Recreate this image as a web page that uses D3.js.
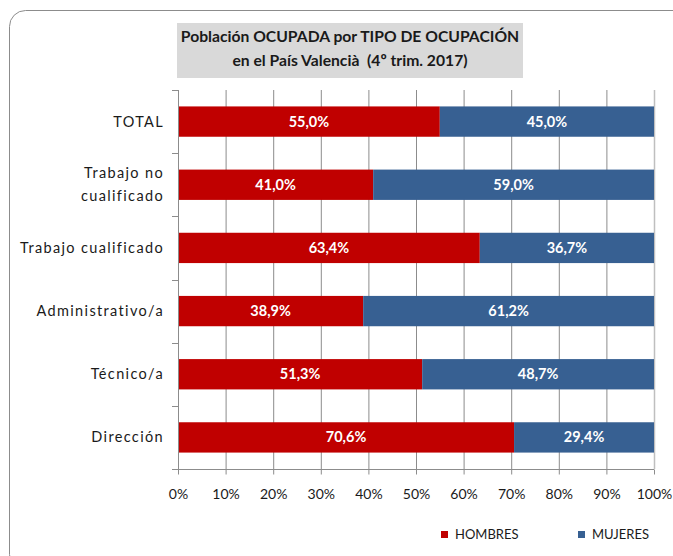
<!DOCTYPE html>
<html><head><meta charset="utf-8">
<script src="https://cdn.jsdelivr.net/npm/d3@7"></script>
<style>
body{margin:0;background:#fff;}
svg{display:block;font-family:Lato,"Open Sans",sans-serif;}
</style></head>
<body>
<svg id="c" width="673" height="556"></svg>
<script>
const categories = ["TOTAL", "Trabajo no cualificado", "Trabajo cualificado", "Administrativo/a", "Técnico/a", "Dirección"];
const categoryLines = [["TOTAL"], ["Trabajo no", "cualificado"], ["Trabajo cualificado"], ["Administrativo/a"], ["Técnico/a"], ["Dirección"]];
const hombres = [55.0, 41.0, 63.4, 38.9, 51.3, 70.6];
const mujeres = [45.0, 59.0, 36.7, 61.2, 48.7, 29.4];
const seriesNames = ["HOMBRES", "MUJERES"];
const seriesColors = ["#C00000", "#376092"];
const xTicks = [0,10,20,30,40,50,60,70,80,90,100];
const titleLines = ["Población OCUPADA por TIPO DE OCUPACIÓN", "en el País Valencià  (4º trim. 2017)"];

const svg = d3.select("#c");
const m = {left:178, right:654, top:90, bottom:469};

svg.append("rect").attr("x",9.5).attr("y",10.5).attr("width",680).attr("height",560)
  .attr("rx",16).attr("fill","none").attr("stroke","#8c8c8c").attr("stroke-width",1);

svg.append("rect").attr("x",177).attr("y",23).attr("width",346).attr("height",55).attr("fill","#d9d9d9");
svg.append("g").selectAll("text").data(titleLines).join("text")
  .attr("x",350).attr("y",(d,i)=>42+i*24).attr("text-anchor","middle")
  .style("white-space","pre")
  .attr("font-size",15.7).attr("font-weight","bold").attr("fill","#1a1a1a").text(d=>d);

const x = d3.scaleLinear().domain([0,100]).range([m.left,m.right]);
const y = d3.scaleBand().domain(categories).range([m.top,m.bottom]).paddingInner(0.52).paddingOuter(0.26);

svg.append("g").selectAll("line").data(xTicks.slice(1)).join("line")
  .attr("x1",d=>x(d)+0.5).attr("x2",d=>x(d)+0.5).attr("y1",m.top).attr("y2",m.bottom)
  .attr("stroke",d=>d===100?"#bfbfbf":"#8c8c8c").attr("stroke-width",d=>d===100?1.5:1);

const stacked = categories.map((c,i)=>{
  return [{c, s:0, x0:0, x1:hombres[i], v:hombres[i]}, {c, s:1, x0:hombres[i], x1:Math.min(100,hombres[i]+mujeres[i]), v:mujeres[i]}];
}).flat();
svg.append("g").selectAll("rect").data(stacked).join("rect")
  .attr("x",d=>x(d.x0)).attr("width",d=>x(d.x1)-x(d.x0))
  .attr("y",d=>y(d.c)).attr("height",y.bandwidth())
  .attr("fill",d=>seriesColors[d.s]);
svg.append("g").selectAll("text").data(stacked).join("text")
  .attr("x",d=>(x(d.x0)+x(d.x1))/2).attr("y",d=>y(d.c)+y.bandwidth()/2+5)
  .attr("text-anchor","middle").attr("font-size",14.5).attr("font-weight","bold").attr("fill","#fff")
  .text(d=>d.v.toFixed(1).replace(".",",")+"%");

const xa = svg.append("g").attr("transform",`translate(0,${m.bottom+0.5})`)
  .call(d3.axisBottom(x).tickValues(xTicks).tickSize(5).tickFormat(d=>d+"%"));
xa.select(".domain").remove();
svg.append("line").attr("x1",m.left-6).attr("x2",m.right).attr("y1",m.bottom+0.5).attr("y2",m.bottom+0.5).attr("stroke","#8c8c8c");
xa.selectAll(".tick line").attr("stroke","#8c8c8c");
xa.selectAll(".tick text").attr("font-size",14).attr("fill","#1a1a1a").attr("dy","1.55em").attr("font-family","Lato");

svg.append("line").attr("x1",m.left+0.5).attr("x2",m.left+0.5).attr("y1",m.top).attr("y2",m.bottom).attr("stroke","#8c8c8c");
const bounds = d3.range(categories.length+1).map(i=>m.top+i*(m.bottom-m.top)/categories.length);
svg.append("g").selectAll("line").data(bounds).join("line")
  .attr("x1",m.left-6).attr("x2",m.left).attr("y1",d=>Math.round(d)+0.5).attr("y2",d=>Math.round(d)+0.5).attr("stroke","#8c8c8c");
const lab = svg.append("g").selectAll("text").data(categories).join("text")
  .attr("text-anchor","end").attr("font-size",14.5).attr("fill","#1a1a1a").attr("letter-spacing",1.35);
lab.each(function(c,i){
  const lines = categoryLines[i];
  const cy = y(c)+y.bandwidth()/2;
  d3.select(this).selectAll("tspan").data(lines).join("tspan")
    .attr("x",164).attr("y",(d,j)=>cy+5+(j-(lines.length-1)/2)*23).text(d=>d);
});

const lg = svg.append("g").selectAll("g").data(seriesNames).join("g")
  .attr("transform",(d,i)=>`translate(${[441,578][i]},531)`);
lg.append("rect").attr("width",7).attr("height",7).attr("fill",(d,i)=>seriesColors[i]);
lg.append("text").attr("x",14).attr("y",8).attr("font-size",13).attr("fill","#1a1a1a").text(d=>d);
</script>
</body></html>
